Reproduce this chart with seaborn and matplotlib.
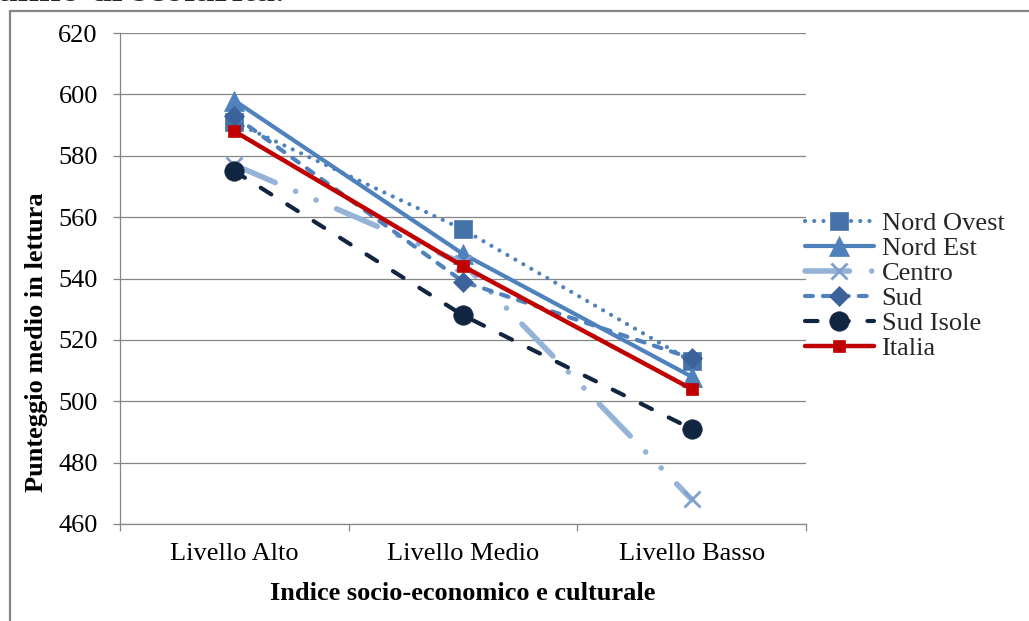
import numpy as np
import pandas as pd
import matplotlib
matplotlib.use("Agg")
import matplotlib.pyplot as plt
from matplotlib.lines import Line2D
import seaborn as sns

sns.set_theme(style="white")
plt.rcParams['font.family'] = ['Liberation Serif', 'DejaVu Serif']

# dati
livelli = ['Livello Alto', 'Livello Medio', 'Livello Basso']
aree = ['Nord Ovest', 'Nord Est', 'Centro', 'Sud', 'Sud Isole', 'Italia']
nord_ovest = [591, 556, 513]
nord_est = [598, 548, 508]
centro = [577, 545, 468]
sud = [593, 539, 514]
sud_isole = [575, 528, 491]
italia = [588, 544, 504]

df = pd.DataFrame({
    'livello': livelli * len(aree),
    'area': np.repeat(aree, len(livelli)),
    'punteggio': nord_ovest + nord_est + centro + sud + sud_isole + italia,
})

''' stili delle serie (tipo Excel) '''
stili = {
    'Nord Ovest': dict(color='#4F81BD', ls=(0, (0.01, 2.2)), lw=3, marker='s', ms=13, mfc='#4672AA'),
    'Nord Est': dict(color='#4F81BD', ls='-', lw=3, marker='^', ms=14, mfc='#4F81BD'),
    'Centro': dict(color='#95B3D7', ls=(0, (8, 4, 0.01, 4, 0.01, 4)), lw=4, marker='x', ms=12, mfc='#7F9FCC'),
    'Sud': dict(color='#4F81BD', ls=(0, (1.9, 2.4)), lw=3, marker='D', ms=10, mfc='#3C629C'),
    'Sud Isole': dict(color='#10253F', ls=(0, (3, 4.5)), lw=3, marker='o', ms=14, mfc='#10253F'),
    'Italia': dict(color='#C00000', ls='-', lw=3.2, marker='s', ms=8, mfc='#C00000'),
}

fig = plt.figure(figsize=(10.29, 6.21), dpi=100)
ax = fig.add_axes([120 / 1029, 97 / 621, 686 / 1029, 491 / 621])

handles = []
for a in aree:
    s = stili[a]
    sns.lineplot(data=df[df['area'] == a], x='livello', y='punteggio', ax=ax,
                 color=s['color'], linestyle=s['ls'], linewidth=s['lw'],
                 marker=s['marker'], markersize=s['ms'], markerfacecolor=s['mfc'],
                 markeredgecolor=s['mfc'], markeredgewidth=2 if s['marker'] == 'x' else 0.5,
                 errorbar=None, sort=False)
    ln = ax.lines[-1]
    ln.set_dash_capstyle('round')
    h = Line2D([], [], color=s['color'], linestyle=s['ls'], linewidth=s['lw'],
               marker=s['marker'], markersize=s['ms'], markerfacecolor=s['mfc'],
               markeredgecolor=s['mfc'], markeredgewidth=2 if s['marker'] == 'x' else 0.5,
               dash_capstyle='round')
    handles.append(h)

ax.set_xlim(-0.5, 2.5)
ax.set_ylim(460, 620)
ax.set_yticks(range(460, 621, 20))
ax.set_xticks([-0.5, 0.5, 1.5, 2.5], labels=[''] * 4)
ax.set_xticks([0, 1, 2], labels=livelli, minor=True)

grigio = '#868686'
ax.yaxis.grid(True, color=grigio, lw=0.9)
ax.xaxis.grid(False)
ax.set_axisbelow(True)
for sp in ['top', 'right']:
    ax.spines[sp].set_visible(False)
for sp in ['left', 'bottom']:
    ax.spines[sp].set_color(grigio)
    ax.spines[sp].set_linewidth(0.9)

ax.tick_params(axis='y', which='major', left=True, direction='out', length=5, width=0.9,
               color=grigio, pad=11, labelsize=19, labelcolor='black')
ax.tick_params(axis='x', which='major', bottom=True, direction='out', length=5, width=0.9,
               color=grigio)
ax.tick_params(axis='x', which='minor', bottom=True, length=0, pad=14, labelsize=19,
               labelcolor='black')

ax.set_xlabel('Indice socio-economico e culturale', fontsize=19, fontweight='bold',
              color='black', labelpad=12)
ax.set_ylabel('Punteggio medio in lettura', fontsize=19, fontweight='bold', color='black')
ax.yaxis.set_label_coords(-0.105, 0.371)

ax.legend(handles, aree, loc='center left', bbox_to_anchor=(805 / 1029, 1 - 286 / 621),
          bbox_transform=fig.transFigure, frameon=False, fontsize=19, handlelength=2.6,
          handletextpad=0.3, labelspacing=0.06, borderpad=0, borderaxespad=0, numpoints=1)

# cornice e titolo tagliato (nell'originale si vede solo la parte bassa)
fig.add_artist(Line2D([10 / 1029, 1], [1 - 11 / 621] * 2, transform=fig.transFigure,
                      color=grigio, lw=1.6))
fig.add_artist(Line2D([10 / 1029] * 2, [0, 1 - 11 / 621], transform=fig.transFigure,
                      color=grigio, lw=1.6))
fig.text(-0.002, 1 - 1 / 621, 'anno di scolarità.', fontsize=28, fontweight='bold',
         va='baseline', ha='left')

plt.savefig('out.png', dpi=100)
plt.close()
